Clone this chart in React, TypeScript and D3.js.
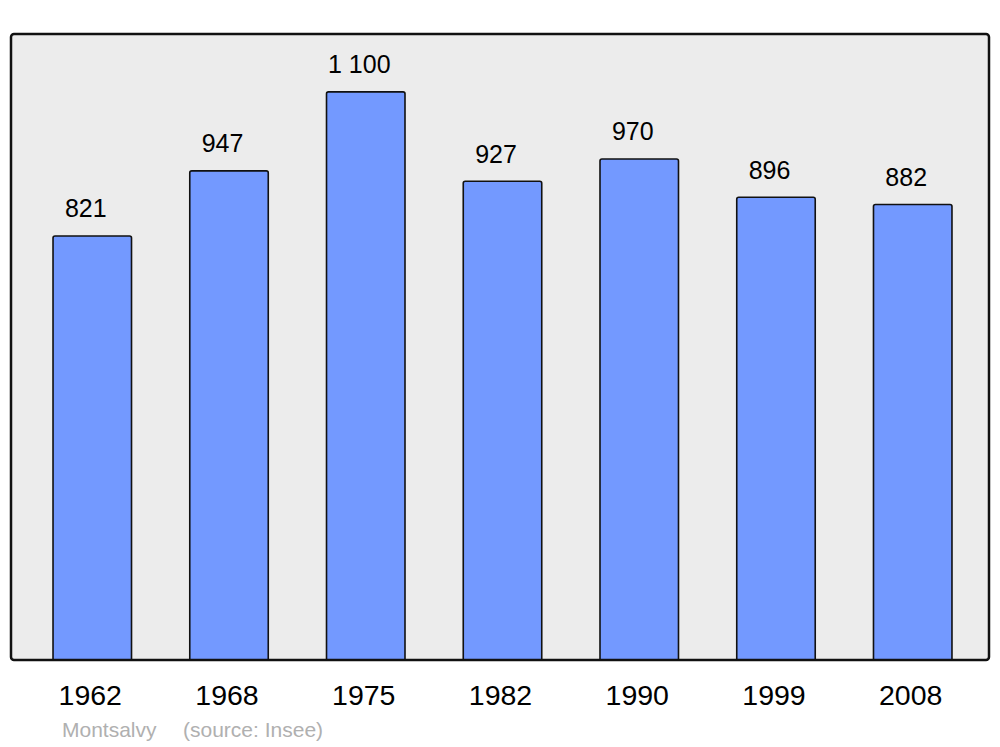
import React from "react";
import * as d3 from "d3";

const years = ["1962", "1968", "1975", "1982", "1990", "1999", "2008"];
const population = [821, 947, 1100, 927, 970, 896, 882];
const valueLabels = ["821", "947", "1 100", "927", "970", "896", "882"];
const commune = "Montsalvy";
const sourceText = "(source: Insee)";

const W = 1000;
const H = 747;
const panel = { x0: 11, y0: 34, x1: 989, y1: 660 };

export default function App() {
  const x = d3
    .scaleBand<string>()
    .domain(years)
    .range([23.9, 981.1])
    .paddingInner(0.426)
    .paddingOuter(0.213);
  const y = d3.scaleLinear().domain([0, 1212]).range([panel.y1, panel.y0]);
  const font = "'Liberation Sans', Arial, sans-serif";
  const r = 2;

  return (
    <svg
      width={W}
      height={H}
      style={{ position: "absolute", left: 0, top: 0, background: "#fff" }}
      fontFamily={font}
    >
      <rect
        x={panel.x0}
        y={panel.y0}
        width={panel.x1 - panel.x0}
        height={panel.y1 - panel.y0}
        rx={3}
        fill="#ececec"
        stroke="none"
      />
      {years.map((yr, i) => {
        const bx = x(yr)!;
        const bw = x.bandwidth();
        const top = y(population[i]);
        const bottom = y(0);
        const path = `M${bx},${bottom} L${bx},${top + r} Q${bx},${top} ${bx + r},${top} L${bx + bw - r},${top} Q${bx + bw},${top} ${bx + bw},${top + r} L${bx + bw},${bottom}`;
        return (
          <g key={yr}>
            <path d={path + " Z"} fill="#7399ff" stroke="none" />
            <path d={path} fill="none" stroke="#111" strokeWidth={1.6} />
            <text
              x={bx + bw / 2 - 6.5}
              y={top - 18.5}
              textAnchor="middle"
              fontSize={25}
              fill="#000"
            >
              {valueLabels[i]}
            </text>
            <text
              x={bx + bw / 2 - 2}
              y={705}
              textAnchor="middle"
              fontSize={28.5}
              fill="#000"
            >
              {yr}
            </text>
          </g>
        );
      })}
      <rect
        x={panel.x0}
        y={panel.y0}
        width={panel.x1 - panel.x0}
        height={panel.y1 - panel.y0}
        rx={3}
        fill="none"
        stroke="#111"
        strokeWidth={2.5}
      />
      <text x={62} y={736.5} fontSize={21} fill="#b0b0b0">
        {commune}
      </text>
      <text x={183} y={736.5} fontSize={21} fill="#b0b0b0">
        {sourceText}
      </text>
    </svg>
  );
}
